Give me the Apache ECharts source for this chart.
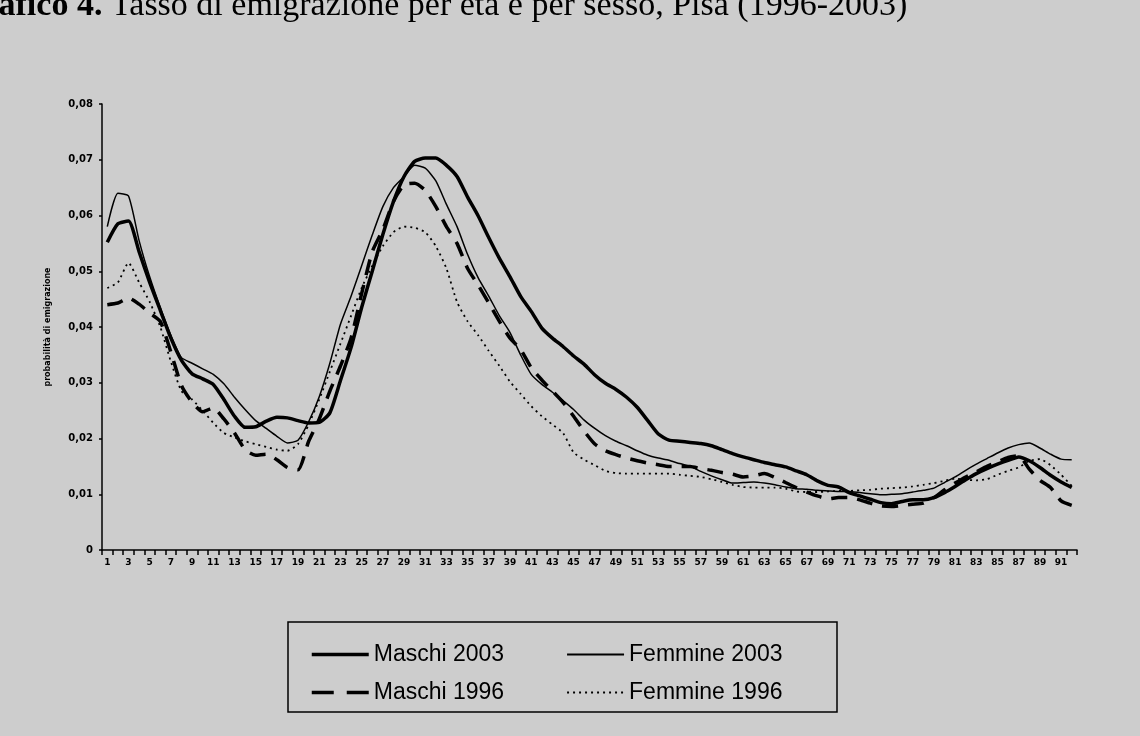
<!DOCTYPE html>
<html>
<head>
<meta charset="utf-8">
<script src="https://cdn.jsdelivr.net/npm/echarts@6/dist/echarts.min.js"></script>
<style>
html,body{margin:0;padding:0;background:#cdcdcd;}
#chart{width:1140px;height:736px;}
</style>
</head>
<body>
<div id="chart"></div>
<script>
// Ages 1..92
const ages = Array.from({length: 92}, (_, i) => String(i + 1));

const maschi2003 = [
0.0552,0.0585,0.059,0.0535,0.048,0.043,0.038,0.034,0.0316,0.0307,
0.0297,0.027,0.024,0.022,0.0221,0.0231,0.0238,0.0237,0.0232,0.0228,
0.0229,0.0246,0.0304,0.0363,0.0435,0.050,0.0566,0.0625,0.067,0.0697,
0.0703,0.0703,0.069,0.067,0.0633,0.0599,0.056,0.0523,0.049,0.0455,
0.0428,0.0398,0.038,0.0365,0.0348,0.0333,0.0314,0.0299,0.0288,0.0274,
0.0256,0.0232,0.0208,0.0197,0.0195,0.0193,0.0191,0.0187,0.018,0.0173,
0.0167,0.0162,0.0157,0.0153,0.0149,0.0142,0.0135,0.0124,0.0116,0.0113,
0.0103,0.0097,0.0091,0.0085,0.0083,0.0087,0.009,0.009,0.0094,0.0103,
0.0114,0.0126,0.0137,0.0146,0.0154,0.0161,0.0167,0.016,0.0148,0.0134,
0.0122,0.0112];

const femmine2003 = [
0.058,0.064,0.0635,0.0555,0.049,0.0435,0.0385,0.0345,0.0335,0.0325,
0.0315,0.0298,0.0274,0.0252,0.0232,0.0218,0.0204,0.0192,0.0197,0.023,
0.0275,0.0335,0.0405,0.0455,0.051,0.0565,0.0616,0.065,0.067,0.069,
0.0685,0.0662,0.062,0.058,0.053,0.0488,0.0455,0.042,0.039,0.035,
0.0315,0.0297,0.0283,0.0268,0.0252,0.0233,0.0218,0.0205,0.0195,0.0187,
0.0178,0.017,0.0165,0.0161,0.0155,0.015,0.0141,0.0133,0.0126,0.012,
0.0121,0.0122,0.012,0.0117,0.0113,0.011,0.0109,0.0107,0.0106,0.0105,
0.0105,0.0103,0.0101,0.0099,0.010,0.0101,0.0104,0.0107,0.0111,0.0121,
0.0131,0.0143,0.0154,0.0164,0.0174,0.0183,0.0189,0.0192,0.0183,0.0172,
0.0163,0.0162];

const maschi1996 = [
0.044,0.0443,0.0452,0.0441,0.0425,0.041,0.0355,0.0295,0.0265,0.0248,
0.0255,0.0235,0.021,0.018,0.017,0.0172,0.0162,0.0148,0.0144,0.0195,
0.0235,0.0285,0.033,0.038,0.046,0.0535,0.0575,0.0625,0.0655,0.0658,
0.0645,0.0616,0.058,0.055,0.0505,0.0475,0.0443,0.041,0.038,0.036,
0.0327,0.0305,0.0285,0.0265,0.024,0.0213,0.019,0.0178,0.0171,0.0165,
0.016,0.0156,0.0153,0.015,0.015,0.015,0.0146,0.0143,0.0139,0.0136,
0.0131,0.0133,0.0137,0.013,0.0121,0.0112,0.0104,0.0097,0.0092,0.0094,
0.0094,0.009,0.0084,0.0079,0.0078,0.008,0.0082,0.0084,0.0094,0.0108,
0.012,0.0131,0.014,0.015,0.0158,0.0166,0.0169,0.0145,0.0125,0.0112,
0.0088,0.008];

const femmine1996 = [
0.047,0.048,0.0515,0.048,0.0445,0.040,0.0338,0.0285,0.027,0.025,
0.0228,0.021,0.0202,0.0195,0.019,0.0185,0.018,0.0178,0.019,0.0225,
0.027,0.032,0.037,0.042,0.047,0.051,0.0545,0.057,0.058,0.0578,
0.057,0.0545,0.0505,0.0445,0.041,0.0385,0.0357,0.033,0.0302,0.028,
0.0258,0.024,0.0225,0.021,0.0175,0.0162,0.0152,0.0142,0.0138,0.0137,
0.0137,0.0137,0.0137,0.0137,0.0135,0.0133,0.0131,0.0127,0.0122,0.0117,
0.0113,0.0112,0.0112,0.0112,0.011,0.0105,0.0104,0.0104,0.0105,0.0106,
0.0106,0.0107,0.0108,0.011,0.0111,0.0112,0.0114,0.0117,0.012,0.0124,
0.0128,0.0126,0.0125,0.0127,0.0135,0.0142,0.0148,0.016,0.0163,0.0152,
0.0135,0.0115];

const seriesNames = ['Maschi 2003', 'Femmine 2003', 'Maschi 1996', 'Femmine 1996'];

const chart = echarts.init(document.getElementById('chart'));
const legendText = {fontFamily: "'Liberation Sans Narrow','Liberation Sans',Arial,sans-serif", fontSize: 23, color: '#000'};
const serif = "'Liberation Serif','Times New Roman',serif";

chart.setOption({
  backgroundColor: '#cdcdcd',
  animation: false,
  graphic: [
    {
      type: 'text', left: -43, top: -11,
      style: {
        text: '{b|Grafico 4.} Tasso di emigrazione per età e per sesso, Pisa (1996-2003)',
        fontFamily: serif, fontSize: 34, fill: '#000',
        rich: {b: {fontWeight: 'bold', fontFamily: serif, fontSize: 34}}
      }
    },
    {
      type: 'rect', shape: {x: 288, y: 622, width: 549, height: 90},
      style: {fill: 'none', stroke: '#000', lineWidth: 1.5}
    }
  ],
  grid: {left: 102, right: 63, top: 104, bottom: 186},
  legend: [
    {
      data: [
        {name: seriesNames[0], lineStyle: {width: 3.5, type: 'solid'}},
        {name: seriesNames[1], lineStyle: {width: 1.8, type: 'solid'}}
      ],
      left: 305, top: 638,
      itemWidth: 57, itemHeight: 20, itemGap: 62, textStyle: legendText,
      itemStyle: {opacity: 0}
    },
    {
      data: [
        {name: seriesNames[2], lineStyle: {width: 3.5, type: [22, 13]}},
        {name: seriesNames[3], lineStyle: {width: 1.8, type: [2, 4]}}
      ],
      left: 305, top: 676,
      itemWidth: 57, itemHeight: 20, itemGap: 62, textStyle: legendText,
      itemStyle: {opacity: 0}
    }
  ],
  xAxis: {
    type: 'category', data: ages, boundaryGap: true,
    axisLine: {lineStyle: {color: '#000', width: 1.5}},
    axisTick: {show: true, interval: 0, length: 5, lineStyle: {color: '#000', width: 1.5}},
    axisLabel: {interval: 1, margin: 8, color: '#000', fontWeight: 'bold', fontSize: 9,
      fontFamily: "'DejaVu Sans',sans-serif"},
    splitLine: {show: false}
  },
  yAxis: {
    type: 'value', min: 0, max: 0.08, interval: 0.01,
    name: 'probabilità di emigrazione', nameLocation: 'middle', nameGap: 50, nameRotate: 90,
    nameTextStyle: {color: '#000', fontSize: 8, fontWeight: 'bold', fontFamily: "'DejaVu Sans',sans-serif"},
    axisLine: {show: true, lineStyle: {color: '#000', width: 1.5}},
    axisTick: {show: true, length: 3, lineStyle: {color: '#000', width: 1.5}},
    axisLabel: {color: '#000', fontWeight: 'bold', fontSize: 10, margin: 9,
      fontFamily: "'DejaVu Sans',sans-serif",
      formatter: v => v === 0 ? '0' : v.toFixed(2).replace('.', ',')},
    splitLine: {show: false}
  },
  series: [
    {name: seriesNames[0], type: 'line', data: maschi2003, symbol: 'none', smooth: 0.2,
      lineStyle: {color: '#000', width: 3.5}, itemStyle: {color: '#000'}},
    {name: seriesNames[1], type: 'line', data: femmine2003, symbol: 'none', smooth: 0.2,
      lineStyle: {color: '#000', width: 1.5}, itemStyle: {color: '#000'}},
    {name: seriesNames[2], type: 'line', data: maschi1996, symbol: 'none', smooth: 0.2,
      lineStyle: {color: '#000', width: 3.5, type: [16, 10]}, itemStyle: {color: '#000'}},
    {name: seriesNames[3], type: 'line', data: femmine1996, symbol: 'none', smooth: 0.2,
      lineStyle: {color: '#000', width: 1.8, type: [2, 4]}, itemStyle: {color: '#000'}}
  ]
});
</script>
</body>
</html>
